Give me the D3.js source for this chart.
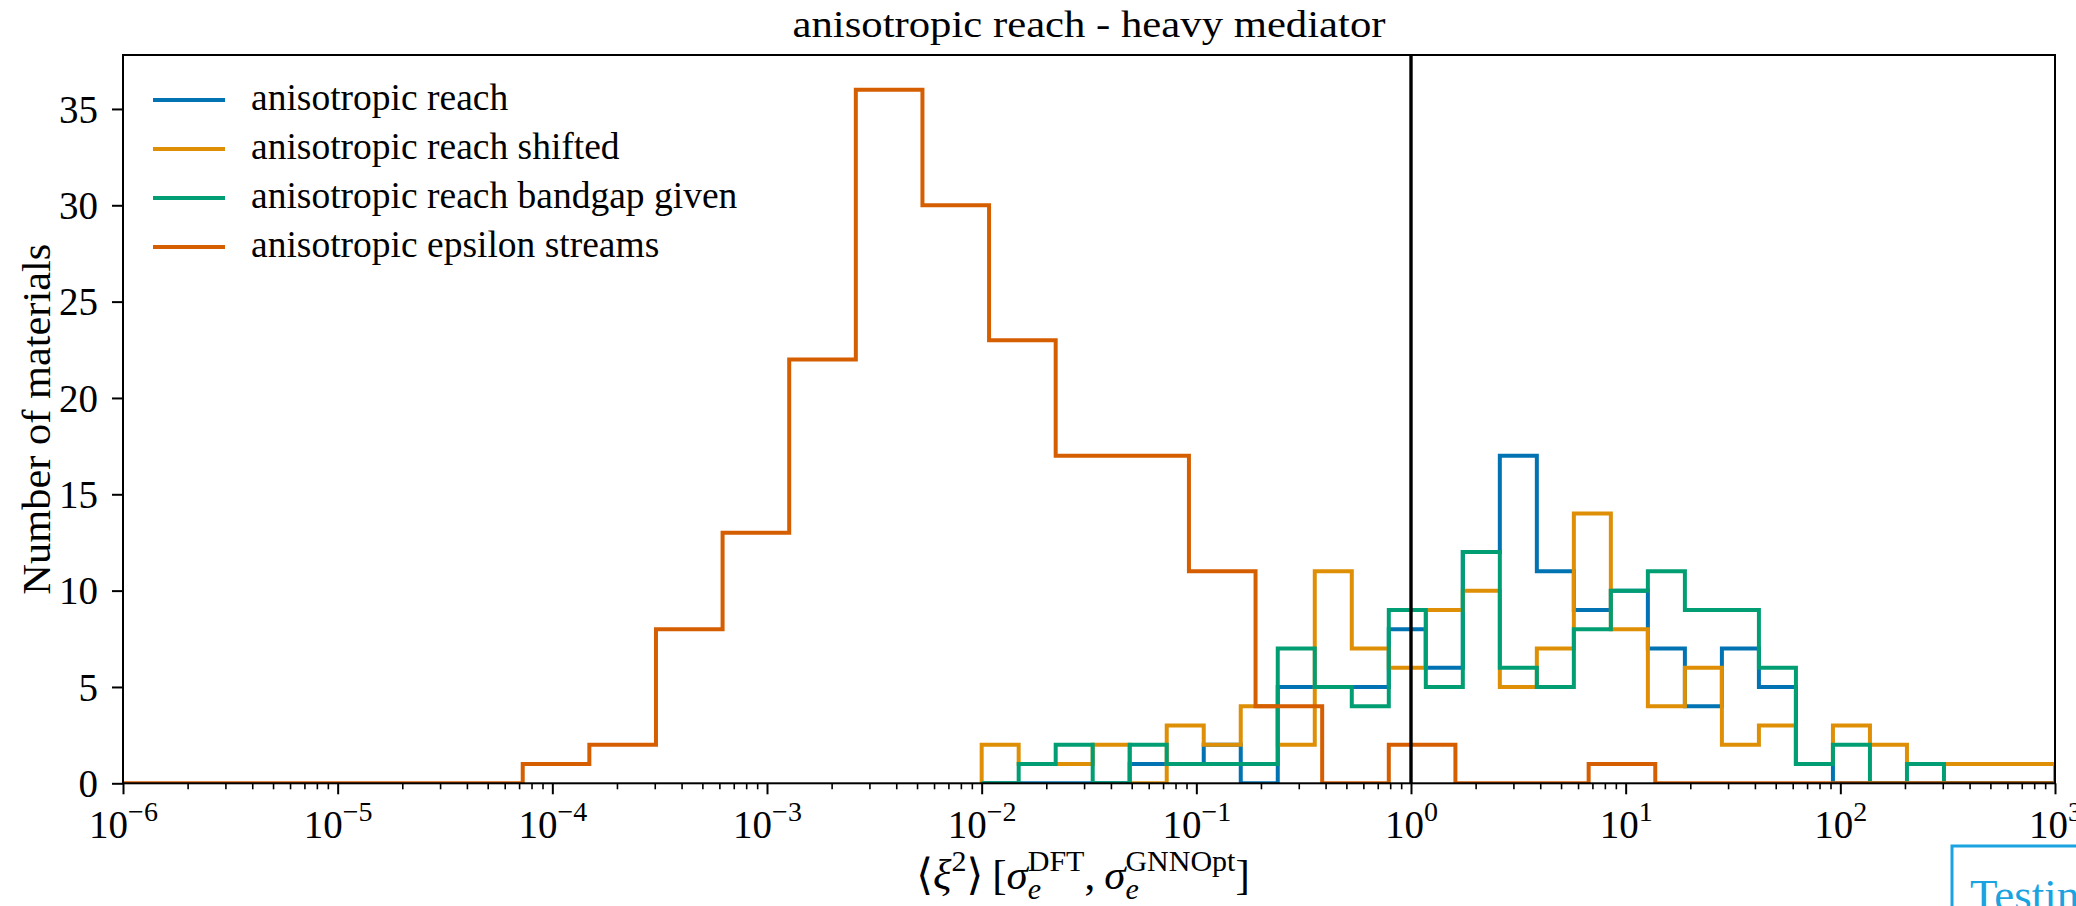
<!DOCTYPE html>
<html>
<head>
<meta charset="utf-8">
<script src="https://cdn.jsdelivr.net/npm/d3@7"></script>
<style>
  html, body { margin: 0; padding: 0; background: #fff; overflow: hidden; }
  svg { display: block; }
  text { font-family: "Liberation Serif", "DejaVu Serif", serif; fill: #000; }
</style>
</head>
<body>
<svg id="chart" width="2076" height="906"></svg>
<script>
// Histogram counts per log-spaced bin (29 bins each).
// The three "reach" variants share bins logspace(-2, 3, 30);
// the epsilon-streams histogram uses logspace(-6, 3, 30).
const reachBinRange = [-2, 3];
const epsilonBinRange = [-6, 3];
const edgeCount = 30;

const reachCounts   = [0,0,0,0,1,1,2,0,5,5,5,8,6,12,17,11,9,10,7,4,7,5,1,0,0,0,0,0,0];
const shiftedCounts = [2,1,1,2,0,3,2,4,2,11,7,6,9,10,5,7,14,8,4,6,2,3,1,3,2,1,1,1,1];
const bandgapCounts = [0,1,2,0,2,1,1,1,7,5,4,9,5,12,6,5,8,10,11,9,9,6,1,2,0,1,0,0,0];
const epsilonCounts = [0,0,0,0,0,0,1,2,8,13,22,36,30,23,17,17,11,4,0,2,0,0,1,0,0,0,0,0,0];

const seriesNames  = ["anisotropic reach", "anisotropic reach shifted",
                      "anisotropic reach bandgap given", "anisotropic epsilon streams"];
const seriesColors = ["#0173b2", "#de8f05", "#029e73", "#d55e00"];

const yTicks = [0, 5, 10, 15, 20, 25, 30, 35];
const xDecades = [-6, -5, -4, -3, -2, -1, 0, 1, 2, 3];

const titleText = "anisotropic reach - heavy mediator";
const yLabelText = "Number of materials";

// ---------------------------------------------------------------
const svg = d3.select("#chart");
const W = 2076, H = 906;
const m = { left: 123, right: W - 2055, top: 55, bottom: H - 783.3 };
const plotW = W - m.left - m.right, plotH = H - m.top - m.bottom;

const x = d3.scaleLog().domain([1e-6, 1e3]).range([m.left, W - m.right]);
const yMax = 36 * 1.05;
const y = d3.scaleLinear().domain([0, yMax]).range([H - m.bottom, m.top]);

function logEdges(range) {
  const [a, b] = range;
  return d3.range(edgeCount).map(k => Math.pow(10, a + (b - a) * k / (edgeCount - 1)));
}
const reachEdges = logEdges(reachBinRange);
const epsEdges = logEdges(epsilonBinRange);

const series = [
  { name: seriesNames[0], color: seriesColors[0], counts: reachCounts,   edges: reachEdges },
  { name: seriesNames[1], color: seriesColors[1], counts: shiftedCounts, edges: reachEdges },
  { name: seriesNames[2], color: seriesColors[2], counts: bandgapCounts, edges: reachEdges },
  { name: seriesNames[3], color: seriesColors[3], counts: epsilonCounts, edges: epsEdges }
];

// step outline, as an unfilled histogram
function stepPoints(s) {
  const pts = [[s.edges[0], 0]];
  s.counts.forEach((c, i) => {
    pts.push([s.edges[i], c]);
    pts.push([s.edges[i + 1], c]);
  });
  pts.push([s.edges[s.edges.length - 1], 0]);
  return pts;
}

svg.append("defs").append("clipPath").attr("id", "plotClip")
  .append("rect").attr("x", m.left).attr("y", m.top).attr("width", plotW).attr("height", plotH);

const line = d3.line().x(d => x(d[0])).y(d => y(d[1]));
const plot = svg.append("g").attr("clip-path", "url(#plotClip)");

series.forEach(s => {
  plot.append("path")
    .attr("d", line(stepPoints(s)))
    .attr("fill", "none")
    .attr("stroke", s.color)
    .attr("stroke-width", 4)
    .attr("stroke-linejoin", "miter");
});

// reference line at unity
plot.append("line")
  .attr("x1", x(1)).attr("x2", x(1))
  .attr("y1", m.top).attr("y2", H - m.bottom)
  .attr("stroke", "#000").attr("stroke-width", 3.4);

// axes
const xMinor = [];
xDecades.slice(0, -1).forEach(d => { for (let k = 2; k <= 9; k++) xMinor.push(k * Math.pow(10, d)); });

svg.append("g")
  .attr("transform", `translate(0,${H - m.bottom})`)
  .call(d3.axisBottom(x).tickValues(xMinor).tickFormat("").tickSize(6).tickSizeOuter(0))
  .call(g => g.select(".domain").remove())
  .call(g => g.selectAll(".tick line").attr("stroke-width", 1.6));

const xAxis = svg.append("g")
  .attr("transform", `translate(0,${H - m.bottom})`)
  .call(d3.axisBottom(x).tickValues(xDecades.map(d => Math.pow(10, d))).tickSize(11).tickSizeOuter(0).tickPadding(0))
  .call(g => g.select(".domain").remove())
  .call(g => g.selectAll(".tick line").attr("stroke-width", 2));

xAxis.selectAll(".tick text").each(function (d, i) {
  const t = d3.select(this);
  t.text(null).attr("y", 0).attr("dy", null)
    .attr("font-family", "'Liberation Serif', serif")
    .attr("font-size", 39).attr("fill", "#000");
  const e = xDecades[i];
  t.append("tspan").attr("y", 55).text("10");
  t.append("tspan").attr("dy", -17).attr("font-size", 28).text(e < 0 ? "\u2212" + (-e) : String(e));
});

const yAxis = svg.append("g")
  .attr("transform", `translate(${m.left},0)`)
  .call(d3.axisLeft(y).tickValues(yTicks).tickSize(11).tickSizeOuter(0).tickPadding(14))
  .call(g => g.select(".domain").remove())
  .call(g => g.selectAll(".tick line").attr("stroke-width", 2));
yAxis.selectAll(".tick text")
  .attr("font-family", "'Liberation Serif', serif")
  .attr("font-size", 39).attr("fill", "#000").attr("dy", "0.34em");

// frame
svg.append("rect")
  .attr("x", m.left).attr("y", m.top).attr("width", plotW).attr("height", plotH)
  .attr("fill", "none").attr("stroke", "#000").attr("stroke-width", 2);

// title
svg.append("text")
  .attr("x", m.left + plotW / 2).attr("y", 37)
  .attr("text-anchor", "middle").attr("font-size", 38)
  .attr("textLength", 593).attr("lengthAdjust", "spacingAndGlyphs")
  .text(titleText);

// y label
svg.append("text")
  .attr("transform", `translate(50,${m.top + plotH / 2}) rotate(-90)`)
  .attr("text-anchor", "middle").attr("font-size", 40)
  .attr("textLength", 351).attr("lengthAdjust", "spacingAndGlyphs")
  .text(yLabelText);

// x label: <xi^2> [sigma_e^DFT, sigma_e^GNNOpt]
const xl = svg.append("g");
const pieces = [
  { t: "\u27e8", s: 43, dy: 0 },
  { t: "\u03be", s: 43, dy: 0, it: true },
  { t: "2", s: 30, dy: -18 },
  { t: "\u27e9", s: 43, dy: 0, pad: 9 },
  { t: "[", s: 43, dy: 0 },
  { t: "\u03c3", s: 43, dy: 0, it: true },
  { t: "e", s: 30, dy: 10, it: true },
  { t: "DFT", s: 30, dy: -18, stack: true },
  { t: ",", s: 43, dy: 0, pad: 9 },
  { t: "\u03c3", s: 43, dy: 0, it: true },
  { t: "e", s: 30, dy: 10, it: true },
  { t: "GNNOpt", s: 30, dy: -18, stack: true },
  { t: "]", s: 43, dy: 0 }
];
let cursor = 0, prevStart = 0;
pieces.forEach(p => {
  const start = p.stack ? prevStart : cursor;
  const el = xl.append("text")
    .attr("x", start).attr("y", p.dy)
    .attr("font-size", p.s)
    .attr("font-style", p.it ? "italic" : null)
    .text(p.t);
  const w = el.node().getComputedTextLength();
  if (p.stack) cursor = Math.max(cursor, start + w);
  else { prevStart = start; cursor = start + w; }
  cursor += (p.pad || 0);
});
xl.attr("transform", `translate(${1083 - cursor / 2},889)`);

// legend
const legend = svg.append("g");
series.forEach((s, i) => {
  const ly = 100 + i * 49;
  legend.append("line")
    .attr("x1", 153).attr("x2", 225).attr("y1", ly).attr("y2", ly)
    .attr("stroke", s.color).attr("stroke-width", 4);
  legend.append("text")
    .attr("x", 251).attr("y", ly + 10)
    .attr("font-size", 37.5)
    .text(s.name);
});

// overlay box in the lower right corner
const tb = svg.append("g");
tb.append("rect")
  .attr("x", 1952).attr("y", 846).attr("width", 200).attr("height", 120)
  .attr("fill", "#fff").attr("stroke", "#1aa3df").attr("stroke-width", 3);
tb.append("text")
  .attr("x", 1970).attr("y", 910)
  .attr("font-family", "'Open Sans', 'Noto Sans', sans-serif")
  .attr("font-size", 45)
  .style("fill", "#1aa3df")
  .text("Testing");
</script>
</body>
</html>
